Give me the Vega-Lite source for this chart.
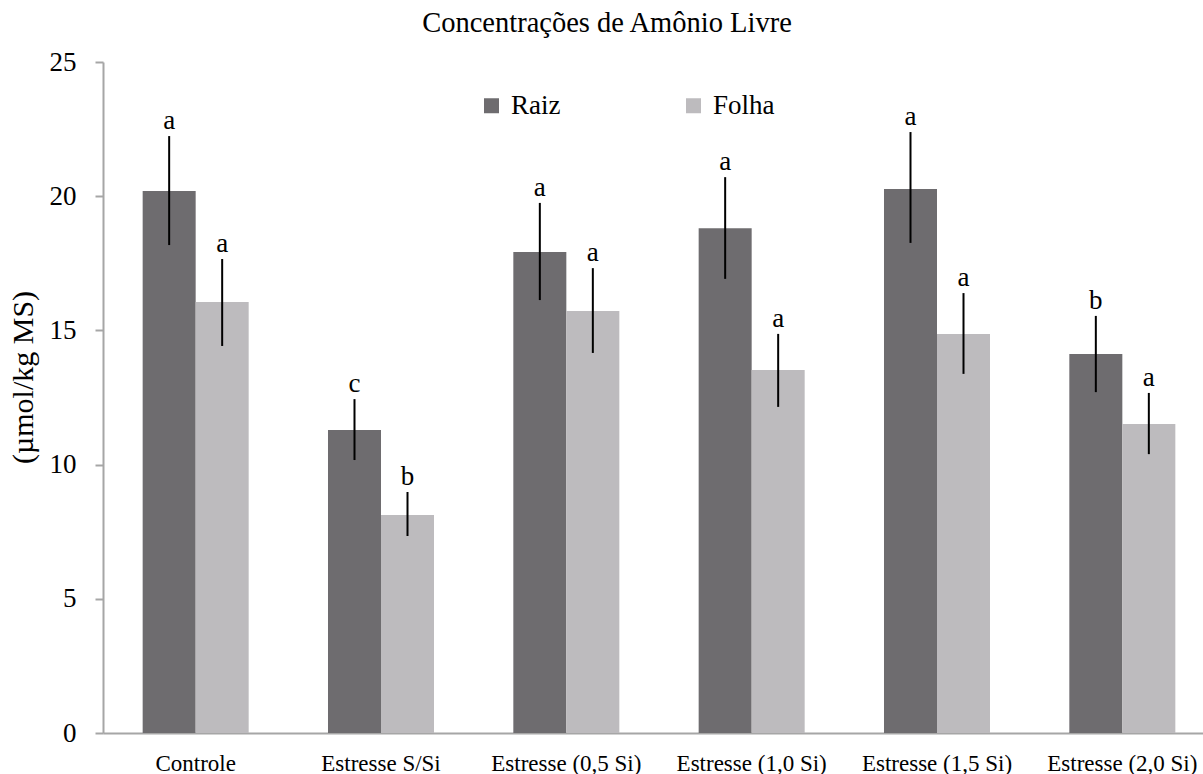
{
  "$schema": "https://vega.github.io/schema/vega-lite/v6.json",
  "autosize": "none",
  "width": 1100,
  "height": 671,
  "padding": {"left": 103, "top": 62, "right": 0, "bottom": 41},
  "background": "white",
  "config": {
    "font": "Liberation Serif",
    "view": {"stroke": null},
    "axis": {"labelFont": "Liberation Serif", "titleFont": "Liberation Serif"},
    "legend": {"labelFont": "Liberation Serif", "titleFont": "Liberation Serif"},
    "title": {"font": "Liberation Serif"},
    "text": {"font": "Liberation Serif"}
  },
  "title": {
    "text": "Concentrações de Amônio Livre",
    "font": "Liberation Serif",
    "fontSize": 28.5,
    "fontWeight": "normal",
    "color": "black",
    "anchor": "middle",
    "frame": "group",
    "dx": -46,
    "baseline": "alphabetic",
    "offset": -12
  },
  "data": {
    "values": [
      {"cat": "Controle", "serie": "Raiz", "mean": 20.19, "lo": 18.18, "hi": 22.24, "letter": "a"},
      {"cat": "Controle", "serie": "Folha", "mean": 16.06, "lo": 14.42, "hi": 17.66, "letter": "a"},
      {"cat": "Estresse S/Si", "serie": "Raiz", "mean": 11.29, "lo": 10.17, "hi": 12.44, "letter": "c"},
      {"cat": "Estresse S/Si", "serie": "Folha", "mean": 8.12, "lo": 7.34, "hi": 8.98, "letter": "b"},
      {"cat": "Estresse (0,5 Si)", "serie": "Raiz", "mean": 17.92, "lo": 16.13, "hi": 19.75, "letter": "a"},
      {"cat": "Estresse (0,5 Si)", "serie": "Folha", "mean": 15.72, "lo": 14.16, "hi": 17.32, "letter": "a"},
      {"cat": "Estresse (1,0 Si)", "serie": "Raiz", "mean": 18.81, "lo": 16.92, "hi": 20.71, "letter": "a"},
      {"cat": "Estresse (1,0 Si)", "serie": "Folha", "mean": 13.52, "lo": 12.15, "hi": 14.87, "letter": "a"},
      {"cat": "Estresse (1,5 Si)", "serie": "Raiz", "mean": 20.27, "lo": 18.26, "hi": 22.39, "letter": "a"},
      {"cat": "Estresse (1,5 Si)", "serie": "Folha", "mean": 14.87, "lo": 13.38, "hi": 16.39, "letter": "a"},
      {"cat": "Estresse (2,0 Si)", "serie": "Raiz", "mean": 14.12, "lo": 12.7, "hi": 15.54, "letter": "b"},
      {"cat": "Estresse (2,0 Si)", "serie": "Folha", "mean": 11.51, "lo": 10.39, "hi": 12.67, "letter": "a"}
    ]
  },
  "encoding": {
    "x": {
      "field": "cat",
      "type": "nominal",
      "sort": ["Controle", "Estresse S/Si", "Estresse (0,5 Si)", "Estresse (1,0 Si)", "Estresse (1,5 Si)", "Estresse (2,0 Si)"],
      "scale": {"range": [0, 1112], "paddingInner": 0.428, "paddingOuter": 0.214},
      "axis": {
        "title": null,
        "labelAngle": 0,
        "labelFont": "Liberation Serif",
        "labelFontSize": 23,
        "labelColor": "black",
        "labelPadding": 19,
        "ticks": false,
        "domainColor": "#a6a6a6",
        "domainWidth": 2,
        "grid": false
      }
    },
    "xOffset": {
      "field": "serie",
      "type": "nominal",
      "sort": ["Raiz", "Folha"],
      "scale": {"paddingInner": 0, "paddingOuter": 0}
    }
  },
  "layer": [
    {
      "mark": {"type": "bar"},
      "encoding": {
        "y": {
          "field": "mean",
          "type": "quantitative",
          "scale": {"domain": [0, 25], "nice": false},
          "axis": {
            "title": "(µmol/kg MS)",
            "titleFont": "Liberation Serif",
            "titleFontSize": 30,
            "titleFontWeight": "normal",
            "titleColor": "black",
            "titleX": -80,
            "titleY": 315,
            "titleAlign": "center",
            "titleBaseline": "middle",
            "values": [0, 5, 10, 15, 20, 25],
            "labelFont": "Liberation Serif",
            "labelFontSize": 27,
            "labelColor": "black",
            "labelPadding": 19,
            "tickSize": 8,
            "tickColor": "#a6a6a6",
            "tickWidth": 2,
            "domainColor": "#a6a6a6",
            "domainWidth": 2,
            "grid": false
          }
        },
        "color": {
          "field": "serie",
          "type": "nominal",
          "sort": ["Raiz", "Folha"],
          "scale": {"domain": ["Raiz", "Folha"], "range": ["#6e6c6f", "#bdbbbe"]},
          "legend": {
            "title": null,
            "orient": "none",
            "legendX": 375,
            "legendY": 30,
            "direction": "horizontal",
            "symbolType": "square",
            "symbolSize": 225,
            "symbolStrokeWidth": 0,
            "labelFont": "Liberation Serif",
            "labelFontSize": 27,
            "labelColor": "black",
            "labelOffset": 6,
            "columnPadding": 119,
            "padding": 0
          }
        }
      }
    },
    {
      "mark": {"type": "rule", "strokeWidth": 2, "color": "black"},
      "encoding": {
        "y": {"field": "lo", "type": "quantitative"},
        "y2": {"field": "hi"}
      }
    },
    {
      "mark": {"type": "text", "font": "Liberation Serif", "baseline": "alphabetic", "dy": -7, "fontSize": 27, "color": "black"},
      "encoding": {
        "y": {"field": "hi", "type": "quantitative"},
        "text": {"field": "letter"}
      }
    }
  ]
}
